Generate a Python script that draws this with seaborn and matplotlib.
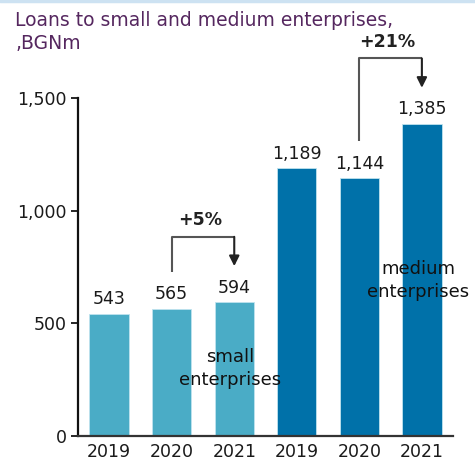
import matplotlib
matplotlib.use("Agg")
import matplotlib.pyplot as plt
import seaborn as sns
import pandas as pd

# values, BGN m
years = ["2019", "2020", "2021"]
small = [543, 565, 594]
medium = [1189, 1144, 1385]
growth_labels = ["+5%", "+21%"]
title_lines = ["Loans to small and medium enterprises,", ",BGNm"]

sns.set_style("white")
plt.rcParams['font.family'] = ['DejaVu Sans']

df = pd.DataFrame({
    'Segment': ['small'] * len(years) + ['medium'] * len(years),
    'Year': years * 2,
    'Loans': small + medium,
})
df['Slot'] = df['Segment'] + ' ' + df['Year']

fig = plt.figure(figsize=(4.75, 4.62), dpi=100)
ax = fig.add_axes([0.164, 0.056, 0.79, 0.732])

sns.barplot(data=df, x='Slot', y='Loans', hue='Segment',
            palette={'small': '#4aacc6', 'medium': '#0071a9'},
            dodge=False, width=0.63, saturation=1, legend=False,
            edgecolor='#bfe3ee', linewidth=0.6, ax=ax)

fs = 12.5
for c in ax.containers:
    ax.bar_label(c, labels=[f"{v:,.0f}" for v in c.datavalues], padding=4,
                 fontsize=fs, color='#1a1a1a')

ax.set_xlim(-0.5, len(df) - 0.5)
ax.set_ylim(0, 1500)
ax.set_yticks([0, 500, 1000, 1500])
ax.set_yticklabels([f"{v:,}" for v in [0, 500, 1000, 1500]], fontsize=fs, color='#1a1a1a')
ax.set_xticks(range(len(df)))
ax.set_xticklabels(df['Year'], fontsize=fs, color='#1a1a1a')
ax.set_xlabel('')
ax.set_ylabel('')

sns.despine(ax=ax)
ax.spines['left'].set_color('#111111')
ax.spines['bottom'].set_color('#333333')
ax.spines['left'].set_linewidth(1.6)
ax.spines['bottom'].set_linewidth(1.6)
ax.tick_params(axis='y', direction='out', length=5, width=1.4, left=True, pad=3)
ax.tick_params(axis='x', length=0, pad=5)

# growth brackets between 2020 and 2021 of each segment
for label, vals, i0 in [(growth_labels[0], small, 1), (growth_labels[1], medium, 4)]:
    x1, x2 = i0, i0 + 1
    start = vals[1] + 165
    top = max(vals[1], vals[2]) + 290
    tip = vals[2] + 160
    ax.plot([x1, x1, x2], [start, top, top], color='#555555', lw=1.5,
            clip_on=False, solid_capstyle='butt')
    ax.annotate('', xy=(x2, tip), xytext=(x2, top), annotation_clip=False,
                arrowprops=dict(arrowstyle='-|>,head_length=0.6,head_width=0.3',
                                color='#222222', lw=1.5, shrinkA=0, shrinkB=0))
    ax.text((x1 + x2) / 2 - 0.05, top + 75, label, ha='center', va='center',
            fontsize=fs, fontweight='bold', color='#222222', clip_on=False)

ax.text(1.93, 300, "small\nenterprises", ha='center', va='center',
        fontsize=13, color='#111111', linespacing=1.4)
ax.text(4.94, 690, "medium\nenterprises", ha='center', va='center',
        fontsize=13, color='#111111', linespacing=1.4)

# title, one line per text so the second line stays short
for i, line in enumerate(title_lines):
    fig.text(0.032, 0.956 - i * 0.05, line, ha='left', va='center',
             fontsize=13.5, color='#55275f')

# thin frame line at the top of the picture
fig.add_artist(plt.Line2D([0, 1], [0.997, 0.997], color='#cde2f2', lw=2.5,
                          transform=fig.transFigure))

fig.savefig("out.png", dpi=100, facecolor='white')
